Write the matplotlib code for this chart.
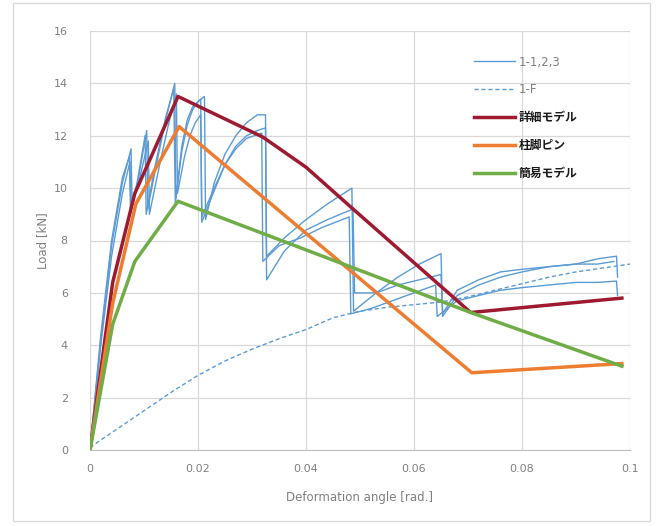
import matplotlib.pyplot as plt
from matplotlib.patches import Rectangle

plt.rcParams["font.family"] = ["DejaVu Sans", "Noto Sans CJK JP"]

# experimental curves 1-1, 1-2, 1-3 (sawtooth)
x_11 = [0, 0.002, 0.004, 0.006, 0.0076, 0.0078, 0.009, 0.0105, 0.0107, 0.012, 0.014, 0.0157, 0.0159,
        0.017, 0.018, 0.019, 0.020, 0.0212, 0.0214, 0.023, 0.025, 0.027, 0.029, 0.031, 0.0325, 0.0327,
        0.036, 0.040, 0.044, 0.0485, 0.0488, 0.053, 0.057, 0.061, 0.065, 0.0653, 0.068, 0.072, 0.076,
        0.080, 0.085, 0.090, 0.094, 0.0975, 0.0977]
y_11 = [0, 4.2, 7.8, 10.2, 11.5, 9.3, 10.4, 12.2, 9.2, 10.6, 12.6, 14.0, 9.6,
        11.4, 12.4, 13.0, 13.3, 13.5, 8.8, 10.2, 11.3, 12.0, 12.5, 12.8, 12.8, 7.4,
        8.1, 8.8, 9.4, 10.0, 5.3, 6.0, 6.6, 7.1, 7.5, 5.1, 5.9, 6.3, 6.6,
        6.8, 7.0, 7.1, 7.3, 7.4, 6.6]
x_12 = [0, 0.002, 0.004, 0.006, 0.0073, 0.0075, 0.0088, 0.0102, 0.0104, 0.012, 0.014, 0.0155, 0.0158,
        0.017, 0.018, 0.019, 0.0205, 0.0207, 0.023, 0.025, 0.027, 0.029, 0.031, 0.0325, 0.0327,
        0.036, 0.040, 0.044, 0.0487, 0.049, 0.053, 0.057, 0.061, 0.065, 0.0653, 0.068, 0.072, 0.076,
        0.080, 0.085, 0.090, 0.094, 0.097]
y_12 = [0, 4.4, 8.0, 10.4, 11.2, 9.0, 10.3, 12.0, 9.0, 10.8, 12.7, 13.8, 9.4,
        11.6, 12.6, 13.1, 13.4, 8.7, 9.9, 10.9, 11.6, 12.0, 12.2, 12.3, 6.5,
        7.6, 8.4, 8.8, 9.2, 6.0, 6.0, 6.3, 6.5, 6.7, 5.2, 6.1, 6.5, 6.8,
        6.9, 7.0, 7.1, 7.1, 7.2]
x_13 = [0, 0.002, 0.004, 0.006, 0.0074, 0.0076, 0.009, 0.0108, 0.011, 0.013, 0.0145, 0.016, 0.0162,
        0.0175, 0.0185, 0.0195, 0.0205, 0.0207, 0.023, 0.025, 0.027, 0.029, 0.0318, 0.032,
        0.035, 0.039, 0.043, 0.048, 0.0483, 0.052, 0.056, 0.060, 0.064, 0.0643, 0.068, 0.072, 0.076,
        0.080, 0.085, 0.090, 0.094, 0.0975, 0.0977]
y_13 = [0, 4.0, 7.4, 9.8, 11.0, 9.2, 10.2, 11.8, 9.0, 11.0, 12.4, 13.6, 9.8,
        11.2, 12.0, 12.5, 12.8, 8.9, 10.0, 10.9, 11.5, 11.9, 12.1, 7.2,
        7.8, 8.1, 8.5, 8.9, 5.2, 5.4, 5.7, 6.0, 6.3, 5.1, 5.7, 5.9, 6.1,
        6.2, 6.3, 6.4, 6.4, 6.45, 5.9]

# 1-F
x_1f = [0, 0.005, 0.01, 0.015, 0.02, 0.025, 0.03, 0.035, 0.04, 0.045, 0.05, 0.055, 0.06, 0.065,
        0.07, 0.075, 0.08, 0.085, 0.09, 0.095, 0.1]
y_1f = [0.1, 0.8, 1.5, 2.2, 2.85, 3.4, 3.85, 4.25, 4.6, 5.05, 5.3, 5.45, 5.55, 5.65,
        5.85, 6.1, 6.35, 6.6, 6.8, 6.95, 7.1]

# models
x_detail = [0, 0.0042, 0.0083, 0.0163, 0.032, 0.040, 0.049, 0.0705, 0.0985]
y_detail = [0, 6.4, 9.8, 13.5, 11.95, 10.8, 9.15, 5.25, 5.8]
x_pin = [0, 0.0042, 0.0085, 0.0165, 0.0707, 0.0985]
y_pin = [0, 5.6, 9.4, 12.35, 2.95, 3.3]
x_simple = [0, 0.0042, 0.0083, 0.0163, 0.0705, 0.0985]
y_simple = [0, 4.8, 7.2, 9.5, 5.25, 3.2]

fig = plt.figure(figsize=(6.56, 5.26), dpi=100)
fig.patches.append(Rectangle((13 / 656, 1 - 521 / 526), 637 / 656, 518 / 526,
                             transform=fig.transFigure, fill=False, edgecolor="#d9d9d9", linewidth=1))
ax = fig.add_axes([90 / 656, 1 - 450 / 526, 540 / 656, 419 / 526])

blue = "#5b9bd5"
ax.plot(x_11, y_11, color=blue, linewidth=1.0, label="1-1,2,3")
ax.plot(x_12, y_12, color=blue, linewidth=1.0)
ax.plot(x_13, y_13, color=blue, linewidth=1.0)
ax.plot(x_1f, y_1f, color=blue, linewidth=1.0, linestyle=(0, (3, 2)), label="1-F")
ax.plot(x_detail, y_detail, color="#9e1a30", linewidth=2.5, label="詳細モデル")
ax.plot(x_pin, y_pin, color="#ed7d31", linewidth=2.5, label="柱脚ピン")
ax.plot(x_simple, y_simple, color="#70ad47", linewidth=2.5, label="簡易モデル")

ax.set_xlim(0, 0.1)
ax.set_ylim(0, 16)
ax.set_xticks([0, 0.02, 0.04, 0.06, 0.08, 0.1])
ax.set_xticklabels(["0", "0.02", "0.04", "0.06", "0.08", "0.1"])
ax.set_yticks(range(0, 17, 2))
ax.grid(True, color="#d9d9d9", linewidth=0.9)
ax.set_axisbelow(True)
for s in ["top", "right", "left"]:
    ax.spines[s].set_visible(False)
ax.spines["bottom"].set_color("#bfbfbf")
ax.tick_params(length=0, labelsize=8, colors="#808080")
ax.tick_params(axis="x", pad=10)
ax.tick_params(axis="y", pad=16)
ax.set_xlabel("Deformation angle [rad.]", fontsize=8.5, color="#808080", labelpad=12.5)
ax.set_ylabel("Load [kN]", fontsize=8.5, color="#808080", labelpad=3.5)

leg = ax.legend(loc="upper left", bbox_to_anchor=(463 / 656, 1 - 45 / 526),
                bbox_transform=fig.transFigure, frameon=False, fontsize=8.5,
                handlelength=3.5, handletextpad=0.3, labelspacing=1.25)
for i, t in enumerate(leg.get_texts()):
    t.set_color("#808080" if i < 2 else "#1a1a1a")
    if i >= 2:
        t.set_fontweight("bold")

fig.savefig("out.png", dpi=100)
